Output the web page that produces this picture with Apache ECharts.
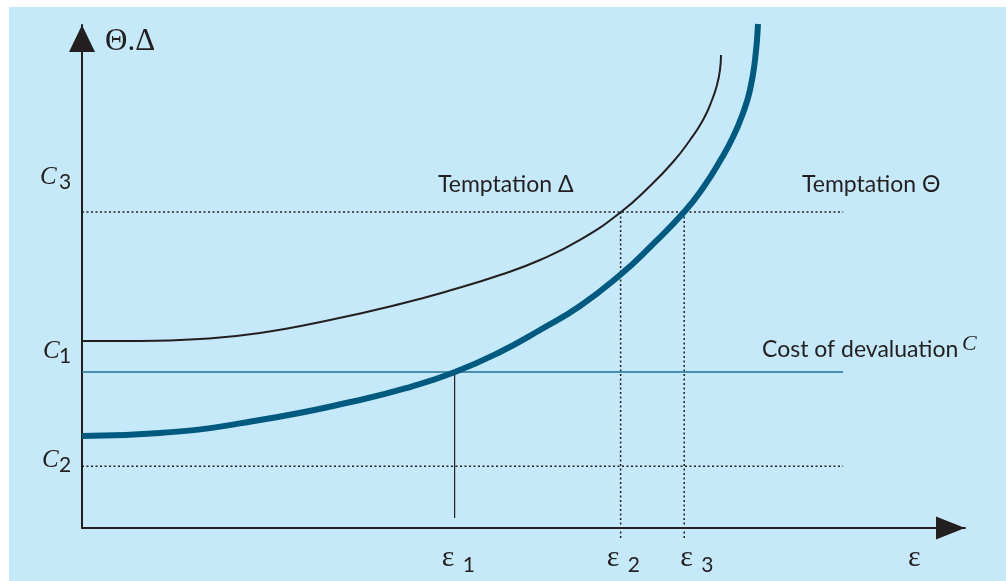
<!DOCTYPE html>
<html>
<head>
<meta charset="utf-8">
<script src="https://cdn.jsdelivr.net/npm/echarts@6/dist/echarts.min.js"></script>
<style>html,body{margin:0;padding:0;background:#fff}#c{width:1006px;height:581px}</style>
</head>
<body>
<div id="c"></div>
<script>
// Temptation Delta (thin black curve): [epsilon, value]
const deltaCurve = [[0,3.718],[0.657,3.718],[1.336,3.757],[2.016,3.877],[2.809,4.135],[3.601,4.453],[4.224,4.751],[4.734,5.030],[5.187,5.328],[5.640,5.726],[6.104,6.282],[6.433,6.799],[6.693,7.276],[6.886,7.714],[7.033,8.111],[7.135,8.509],[7.191,8.807],[7.225,9.105],[7.237,9.404]];
// Temptation Theta (thick teal curve)
const thetaCurve = [[0,1.829],[0.883,1.889],[2.016,2.147],[3.148,2.545],[3.715,2.803],[4.224,3.101],[4.734,3.499],[5.187,3.936],[5.640,4.414],[6.093,5.030],[6.433,5.586],[6.829,6.302],[7.055,6.819],[7.225,7.296],[7.373,7.773],[7.486,8.250],[7.565,8.708],[7.622,9.304],[7.656,10.02]];
// Levels of the cost of devaluation and the thresholds on the epsilon axis
const costLevels = {c1: 3.10, c2: 1.23, c3: 6.28};
const epsValues = {e1: 4.22, e2: 6.10, e3: 6.82};
const guideEnd = 8.62;
const tickBottom = -0.2;
const e1Bottom = 0.2;
const yLabels = ['C', '3', 'C', '1', 'C', '2'];
const xLabels = ['ε', '1', 'ε', '2', 'ε', '3', 'ε'];
const curveLabels = ['Temptation Δ', 'Temptation Θ', 'Cost of devaluation', 'C', 'Θ.Δ'];

const INK = '#231f20';
const serif = '"Liberation Serif","DejaVu Serif",serif';
const sans = 'Lato,"Noto Sans",sans-serif';

function seg(data, style) {
  return Object.assign({type: 'line', data: data, symbol: 'none', clip: false, silent: true}, style);
}
const dotted = {color: INK, width: 1.5, type: [2, 2.5]};

const series = [
  seg([[0, costLevels.c3], [guideEnd, costLevels.c3]], {lineStyle: dotted}),
  seg([[0, costLevels.c2], [guideEnd, costLevels.c2]], {lineStyle: dotted}),
  seg([[epsValues.e2, costLevels.c3], [epsValues.e2, tickBottom]], {lineStyle: dotted}),
  seg([[epsValues.e3, costLevels.c3], [epsValues.e3, tickBottom]], {lineStyle: dotted}),
  seg([[0, costLevels.c1], [guideEnd, costLevels.c1]], {lineStyle: {color: '#1f6f93', width: 1.5}}),
  seg([[epsValues.e1, costLevels.c1], [epsValues.e1, e1Bottom]], {lineStyle: {color: INK, width: 1.2}}),
  seg(deltaCurve, {smooth: 0.5, lineStyle: {color: INK, width: 2}}),
  seg(thetaCurve, {smooth: 0.5, lineStyle: {color: '#005a80', width: 6, cap: 'butt'}})
];

function txt(x, y, s, font, size, italic) {
  return {type: 'text', x: x, y: y, silent: true, z: 10,
    style: {text: s, fill: INK, font: (italic ? 'italic ' : '') + size + 'px ' + font, textVerticalAlign: 'middle', textAlign: 'left'}};
}

const graphics = [
  {type: 'rect', x: 9, y: 7, shape: {width: 1000, height: 580}, style: {fill: '#c6e9f9'}, z: -10, silent: true}
];

const chart = echarts.init(document.getElementById('c'));
chart.setOption({
  backgroundColor: '#ffffff',
  animation: false,
  grid: {left: 82, right: 41, top: 25, bottom: 53},
  xAxis: {type: 'value', min: 0, max: 10,
    axisLine: {show: true, symbol: ['none', 'triangle'], symbolSize: [23, 29], symbolOffset: [0, -14.5], lineStyle: {color: INK, width: 2}},
    axisTick: {show: false}, axisLabel: {show: false}, splitLine: {show: false}},
  yAxis: {type: 'value', min: 0, max: 10,
    axisLine: {show: true, symbol: ['none', 'triangle'], symbolSize: [26, 27], symbolOffset: [0, -13.5], lineStyle: {color: INK, width: 2}},
    axisTick: {show: false}, axisLabel: {show: false}, splitLine: {show: false}},
  series: series,
  graphic: graphics
});

// Text labels placed relative to the chart's scales
function px(x, y) { return chart.convertToPixel({gridIndex: 0}, [x, y]); }
const labels = [];
const pY0 = px(0, 0);
[[costLevels.c3, 0, 1, -35, 40], [costLevels.c1, 2, 3, -21, 43], [costLevels.c2, 4, 5, -6, 42]].forEach(function (d) {
  const p = px(0, d[0]);
  labels.push(txt(d[4], p[1] + d[3], yLabels[d[1]], serif, 25, true));
  labels.push(txt(59, p[1] + d[3] + 5, yLabels[d[2]], sans, 21, false));
});
[[epsValues.e1, 0, 1, -13], [epsValues.e2, 2, 3, -14], [epsValues.e3, 4, 5, -4]].forEach(function (d) {
  const p = px(d[0], 0);
  labels.push(txt(p[0] + d[3], pY0[1] + 30, xLabels[d[1]], serif, 30, false));
  labels.push(txt(p[0] + d[3] + 21, pY0[1] + 37, xLabels[d[2]], sans, 21, false));
});
labels.push(txt(908, pY0[1] + 30, xLabels[6], serif, 30, false));
labels.push(txt(105, 42, curveLabels[4], serif, 31, false));
const pC3 = px(0, costLevels.c3);
labels.push(txt(438, pC3[1] - 28, curveLabels[0], sans, 23, false));
labels.push(txt(802, pC3[1] - 28, curveLabels[1], sans, 23, false));
const pC1 = px(0, costLevels.c1);
labels.push(txt(762, pC1[1] - 22, curveLabels[2], sans, 23, false));
labels.push(txt(962, pC1[1] - 28, curveLabels[3], serif, 22, true));
chart.setOption({graphic: graphics.concat(labels)});
</script>
</body>
</html>
